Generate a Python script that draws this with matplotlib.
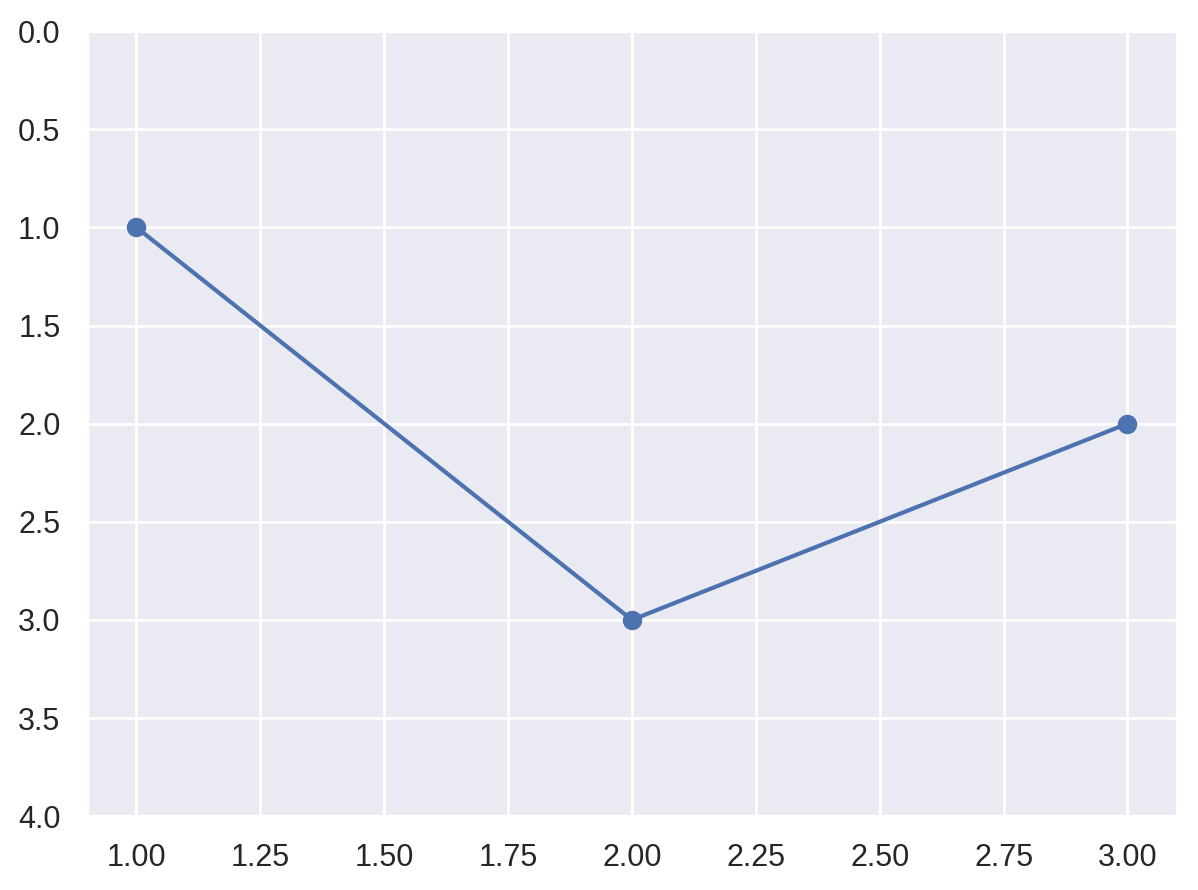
import matplotlib
matplotlib.use("Agg")
import matplotlib.pyplot as plt
import seaborn as sns

x_values = [1, 2, 3]
y_values = [1, 3, 2]

sns.set_theme(style="darkgrid")
plt.rcParams['font.family'] = ['Liberation Sans', 'DejaVu Sans']

fig = plt.figure(figsize=(5.99, 4.45), dpi=200)
ax = fig.add_axes([0.0725, 0.083, 0.910, 0.882])
ax.plot(x_values, y_values, marker="o", color="#4c72b0")
ax.set_ylim(4, 0)
fig.savefig("out.png", dpi=200)
